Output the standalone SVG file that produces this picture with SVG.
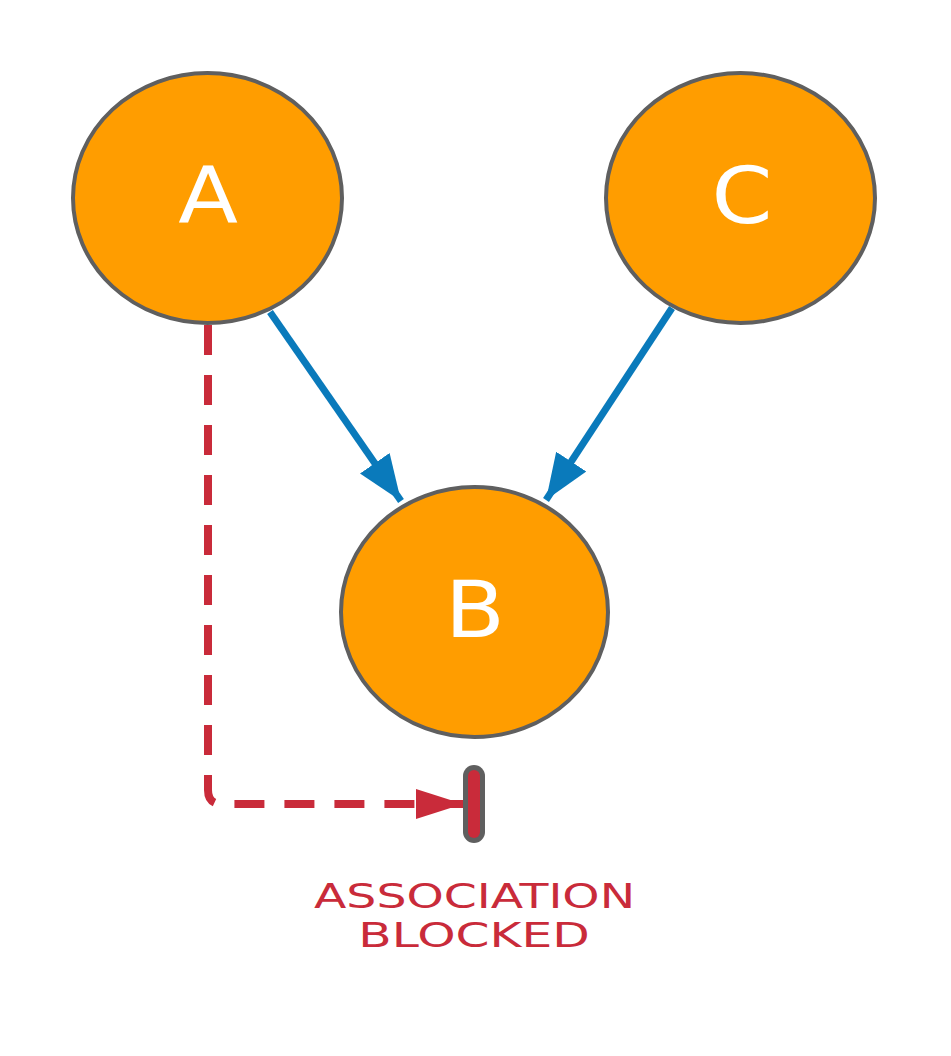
<svg xmlns="http://www.w3.org/2000/svg" width="951" height="1056" viewBox="0 0 951 1056">
<style>
.node{fill:#ff9d00;stroke:#5f5f5f;stroke-width:4}
.nl{fill:#fff;font-family:"DejaVu Sans",sans-serif;font-size:78px;text-anchor:middle}
.blue{stroke:#0a7abb;stroke-width:7;fill:none}
.red{stroke:#c92b3a;stroke-width:8;fill:none;stroke-dasharray:30 20}
.lbl{fill:#c92b3a;font-family:"DejaVu Sans",sans-serif;font-size:33px;text-anchor:middle}
</style>
<defs>
<marker id="ab" markerUnits="userSpaceOnUse" markerWidth="50" markerHeight="40" viewBox="0 0 50 40" refX="46" refY="20" orient="auto">
<path d="M0,2 L46,20 L0,38 Z" fill="#0a7abb"/>
</marker>
<marker id="ar" markerUnits="userSpaceOnUse" markerWidth="50" markerHeight="40" viewBox="0 0 50 40" refX="47" refY="20" orient="auto">
<path d="M0,5 L47,20 L0,35 Z" fill="#c92b3a"/>
</marker>
</defs>
<g id="connectors">
<line class="blue" x1="270" y1="312" x2="401" y2="501" marker-end="url(#ab)"/>
<line class="blue" x1="672" y1="308" x2="546" y2="500" marker-end="url(#ab)"/>
<path class="red" d="M208,325 V790 Q208,804 222,804 H463" marker-end="url(#ar)"/>
</g>
<g id="blocker">
<line x1="474" y1="776" x2="474" y2="832" stroke="#5f5f5f" stroke-width="22" stroke-linecap="round"/>
<line x1="474" y1="776" x2="474" y2="832" stroke="#c92b3a" stroke-width="12" stroke-linecap="round"/>
</g>
<g id="A">
<ellipse class="node" cx="207.5" cy="198" rx="134.5" ry="125"/>
<text class="nl" transform="translate(208,223) scale(1.12,1)">A</text>
</g>
<g id="C">
<ellipse class="node" cx="740.5" cy="198" rx="134.5" ry="125"/>
<text class="nl" transform="translate(742,223) scale(1.12,1)">C</text>
</g>
<g id="B">
<ellipse class="node" cx="474.5" cy="612" rx="133.5" ry="125"/>
<text class="nl" transform="translate(475,637) scale(1.12,1)">B</text>
</g>
<g id="label">
<text class="lbl" transform="translate(474.5,908) scale(1.3,1)" textLength="247" lengthAdjust="spacingAndGlyphs">ASSOCIATION</text>
<text class="lbl" transform="translate(474,947) scale(1.3,1)" textLength="178" lengthAdjust="spacingAndGlyphs">BLOCKED</text>
</g>
</svg>
